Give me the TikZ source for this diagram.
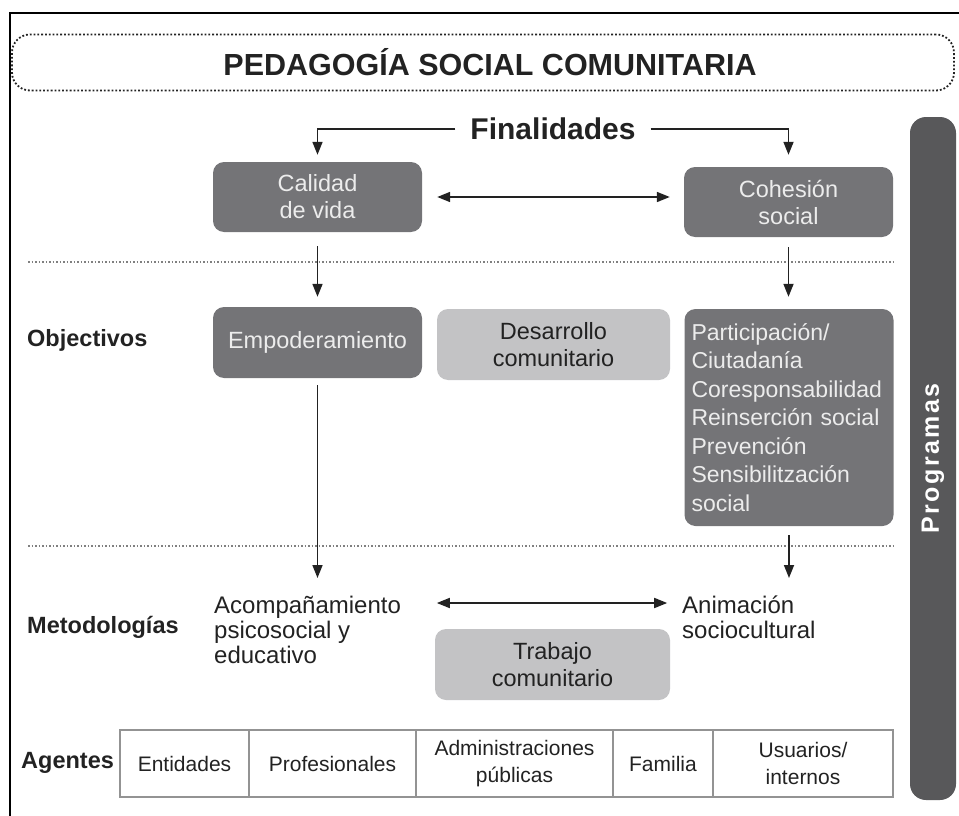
\documentclass[tikz,border=0pt]{standalone}
\usepackage{fontspec}
\setmainfont{Liberation Sans}
\newfontfamily\progfont[LetterSpace=10]{Liberation Sans Bold}
\usepackage{xcolor}
\usetikzlibrary{arrows.meta}
\usetikzlibrary{positioning}
\usetikzlibrary{calc}

\definecolor{boxdark}{HTML}{747477}
\definecolor{boxlight}{HTML}{C3C3C5}
\definecolor{bardark}{HTML}{58585A}
\definecolor{textlight}{HTML}{ECECEC}
\definecolor{textdark}{HTML}{222222}

\begin{document}
\begin{tikzpicture}[x=1pt,y=-1pt,
        every node/.style={font=\fontsize{23.5}{27}\selectfont},
        darkbox/.style={rectangle,rounded corners=11pt,fill=boxdark,text=textlight,align=center,inner sep=0pt},
        lightbox/.style={rectangle,rounded corners=11pt,fill=boxlight,text=textdark,align=center,inner sep=0pt},
        rowlabel/.style={anchor=west,text=textdark,inner sep=0pt,font=\fontsize{23.5}{27}\selectfont\bfseries},
        plain/.style={anchor=north west,align=left,text=textdark,inner sep=0pt,font=\fontsize{24}{25}\selectfont},
        cell/.style={draw=gray!85,line width=1.4pt,minimum height=67pt,inner sep=0pt,outer sep=0pt,align=center,text=textdark,font=\fontsize{21}{27}\selectfont},
        arr/.style={draw=textdark,line width=1.7pt,-{Triangle[length=13pt,width=10pt]}},
        dbl/.style={draw=textdark,line width=1.7pt,{Triangle[length=13pt,width=10pt]}-{Triangle[length=13pt,width=10pt]}},
        sepline/.style={draw=gray,dotted,line width=1.5pt}]
        \useasboundingbox (0,0) rectangle (959,816);
        \draw[line width=2pt] (10,816) |- (959,13);

        % title and finalidades
        \node[draw=textdark,dotted,line width=1.8pt,rounded corners=18pt,minimum width=942pt,minimum height=56pt] (title) at (483,62.5) {};
        \node[text=textdark,font=\fontsize{30.5}{36}\selectfont\bfseries] (titletext) at (490,62.5) {PEDAGOGÍA SOCIAL COMUNITARIA};
        \node[text=textdark,inner xsep=15pt,font=\fontsize{30}{36}\selectfont\bfseries] (fin) at (553,129) {Finalidades};
        \node[darkbox,minimum width=209pt,minimum height=70pt] (calidad) at (317.5,197) {Calidad\\de vida};
        \node[darkbox,minimum width=209pt,minimum height=70pt] (cohesion) at (788.5,202) {Cohesión\\social};

        \draw[sepline] (28,262) -- (896,262);
        \draw[sepline] (28,546) -- (896,546);

        % objectivos
        \node[rowlabel] (objet) at (27,340) {Objectivos};
        \node[darkbox,minimum width=209pt,minimum height=71pt] (empod) at (317.5,342.5) {Empoderamiento};
        \node[lightbox,minimum width=233pt,minimum height=71pt] (desarr) at (553.5,344.5) {Desarrollo\\comunitario};
        \node[darkbox,align=left,text width=195pt,inner xsep=7pt,minimum height=217pt,font=\fontsize{23}{28.5}\selectfont] (partic) at (789,417.5) {Participación/\\Ciutadanía\\Coresponsabilidad\\Reinserción social\\Prevención\\Sensibilitzación\\social};

        % metodologias
        \node[rowlabel] (metod) at (27,627) {Metodologías};
        \node[plain] (acomp) at (214,596) {Acompañamiento\\psicosocial y\\educativo};
        \node[plain] (anim) at (682,596) {Animación\\sociocultural};
        \node[lightbox,minimum width=235pt,minimum height=71pt] (trabajo) at (552.5,664.5) {Trabajo\\comunitario};

        % agentes
        \node[rowlabel] (agent) at (21,763) {Agentes};
        \node[cell,minimum width=129pt] (ent) at (184.5,763.5) {Entidades};
        \node[cell,minimum width=167pt,right=0pt of ent] (prof) {Profesionales};
        \node[cell,minimum width=197pt,right=0pt of prof] (admin) {Administraciones\\públicas};
        \node[cell,minimum width=100pt,right=0pt of admin] (fam) {Familia};
        \node[cell,minimum width=180pt,right=0pt of fam] (usu) {Usuarios/\\internos};

        \node[fill=bardark,rounded corners=16pt,minimum width=683pt,minimum height=46pt,rotate=90,text=white,font=\fontsize{25}{28}\progfont] (prog) at (933,458.5) {Programas};

        % connectors
        \draw[arr,shorten >=7pt] (fin.west) -| (calidad.north);
        \draw[arr,shorten >=12pt] (fin.east) -| (cohesion.north);
        \draw[dbl] ($(calidad.east)+(15,0)$) -- ($(calidad.east -| cohesion.west)+(-14,0)$);
        \draw[arr,shorten <=14pt,shorten >=10pt] (calidad.south) -- (empod.north);
        \draw[arr,shorten <=10pt,shorten >=12pt] (cohesion.south) -- (cohesion.south |- partic.north);
        \draw[arr,shorten <=7pt,shorten >=18pt] (empod.south) -- (empod.south |- acomp.north);
        \draw[arr,shorten <=9pt,shorten >=18pt] (partic.south) -- (partic.south |- anim.north);
        \draw[dbl] ($(trabajo.west |- anim.north)+(2,7)$) -- ($(trabajo.east |- anim.north)+(-3,7)$);
\end{tikzpicture}
\end{document}
